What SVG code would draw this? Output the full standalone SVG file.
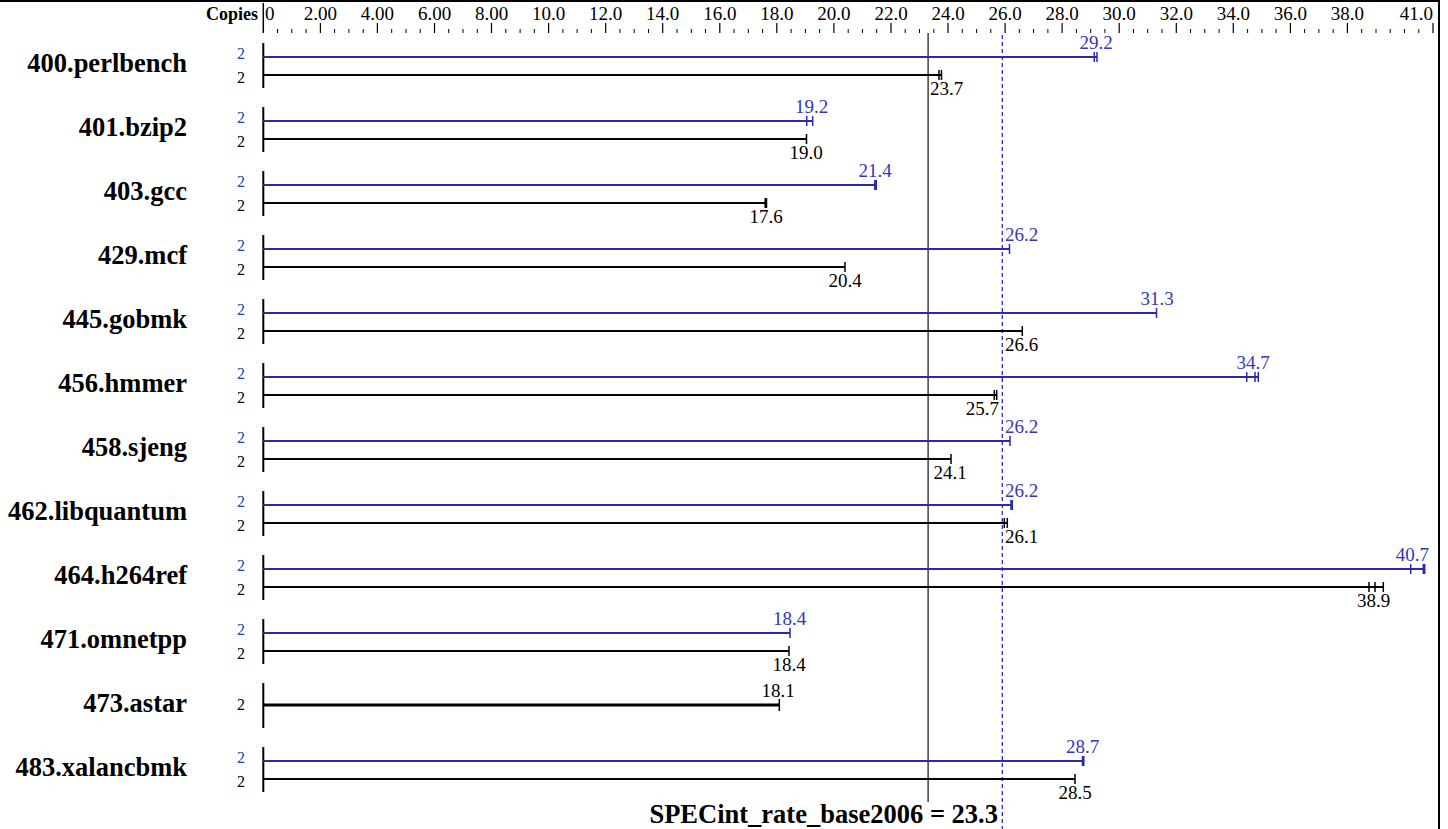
<svg xmlns="http://www.w3.org/2000/svg" width="1448" height="829" viewBox="0 0 1448 829">
<style>
text{font-family:"Liberation Serif","Times New Roman",Times,"Nimbus Roman",Tinos,"DejaVu Serif",serif}
.name{font-weight:bold;font-size:26.5px;text-anchor:end;fill:#000}
.ax{font-size:19px;text-anchor:middle;fill:#000}
.val{font-size:19px;text-anchor:middle}
.vb{fill:#3535b8}
.vk{fill:#000}
.cp{font-size:16px;text-anchor:middle}
.bb{stroke:#2a2aaa;stroke-width:2;fill:none}
.bk{stroke:#000;stroke-width:2;fill:none}
.tb{stroke:#2a2aaa;stroke-width:1.5;fill:none}
.tk{stroke:#000;stroke-width:1.5;fill:none}
.row{stroke:#000;stroke-width:2;fill:none}
.st{text-anchor:start}
.en{text-anchor:end}
</style>
<rect width="1448" height="829" fill="#fff"/>
<g id="frame">
<line x1="0" y1="1" x2="1440" y2="1" stroke="#000" stroke-width="2"/>
<line x1="1439" y1="0" x2="1439" y2="829" stroke="#000" stroke-width="2"/>
</g>
<g id="axis">
<text x="258" y="20" font-weight="bold" font-size="18" text-anchor="end">Copies</text>
<line x1="263.3" y1="3" x2="263.3" y2="33" stroke="#000" stroke-width="1.5"/>
<path d="M320.4,23V33M377.4,23V33M434.5,23V33M491.5,23V33M548.6,23V33M605.7,23V33M662.7,23V33M719.8,23V33M776.8,23V33M833.9,23V33M891,23V33M948,23V33M1005.1,23V33M1062.1,23V33M1119.2,23V33M1176.3,23V33M1233.3,23V33M1290.4,23V33M1347.4,23V33M1433,23V33" stroke="#000" stroke-width="1.2"/>
<path d="M277.6,29V33M291.8,29V33M306.1,29V33M334.6,29V33M348.9,29V33M363.2,29V33M391.7,29V33M406,29V33M420.2,29V33M448.7,29V33M463,29V33M477.3,29V33M505.8,29V33M520.1,29V33M534.3,29V33M562.9,29V33M577.1,29V33M591.4,29V33M619.9,29V33M634.2,29V33M648.5,29V33M677,29V33M691.3,29V33M705.5,29V33M734,29V33M748.3,29V33M762.6,29V33M791.1,29V33M805.4,29V33M819.6,29V33M848.2,29V33M862.4,29V33M876.7,29V33M905.2,29V33M919.5,29V33M933.8,29V33M962.3,29V33M976.6,29V33M990.8,29V33M1019.3,29V33M1033.6,29V33M1047.9,29V33M1076.4,29V33M1090.7,29V33M1104.9,29V33M1133.5,29V33M1147.7,29V33M1162,29V33M1190.5,29V33M1204.8,29V33M1219.1,29V33M1247.6,29V33M1261.9,29V33M1276.1,29V33M1304.6,29V33M1318.9,29V33M1333.2,29V33M1361.7,29V33M1376,29V33M1390.2,29V33M1404.5,29V33M1418.8,29V33" stroke="#000" stroke-width="1"/>
<text class="ax st" x="265" y="20">0</text>
<text class="ax" x="320.4" y="20">2.00</text>
<text class="ax" x="377.4" y="20">4.00</text>
<text class="ax" x="434.5" y="20">6.00</text>
<text class="ax" x="491.5" y="20">8.00</text>
<text class="ax" x="548.6" y="20">10.0</text>
<text class="ax" x="605.7" y="20">12.0</text>
<text class="ax" x="662.7" y="20">14.0</text>
<text class="ax" x="719.8" y="20">16.0</text>
<text class="ax" x="776.8" y="20">18.0</text>
<text class="ax" x="833.9" y="20">20.0</text>
<text class="ax" x="891" y="20">22.0</text>
<text class="ax" x="948" y="20">24.0</text>
<text class="ax" x="1005.1" y="20">26.0</text>
<text class="ax" x="1062.1" y="20">28.0</text>
<text class="ax" x="1119.2" y="20">30.0</text>
<text class="ax" x="1176.3" y="20">32.0</text>
<text class="ax" x="1233.3" y="20">34.0</text>
<text class="ax" x="1290.4" y="20">36.0</text>
<text class="ax" x="1347.4" y="20">38.0</text>
<text class="ax en" x="1433" y="20">41.0</text>
</g>
<g id="reference-lines">
<line x1="928.1" y1="33" x2="928.1" y2="802" stroke="#222" stroke-width="1.3"/>
<line x1="1002.3" y1="35" x2="1002.3" y2="829" stroke="#2a2acc" stroke-width="1.3" stroke-dasharray="4,3"/>
</g>
<g id="bars">
<g id="r400">
<text class="name" x="187" y="72">400.perlbench</text>
<text class="cp vb" x="241" y="58.5">2</text><text class="cp vk" x="241" y="83">2</text>
<line class="row" x1="263.3" y1="43" x2="263.3" y2="88"/>
<line class="bb" x1="263" y1="57" x2="1097" y2="57"/><path class="tb" d="M1094.3,52V62M1097,52V62"/>
<line class="bk" x1="263" y1="75" x2="941.5" y2="75"/><path class="tk" d="M939,70V80M941.5,70V80"/>
<text class="val vb" x="1096" y="49">29.2</text>
<text class="val vk st" x="930" y="95">23.7</text>
</g>
<g id="r401">
<text class="name" x="187" y="136">401.bzip2</text>
<text class="cp vb" x="241" y="122.5">2</text><text class="cp vk" x="241" y="147">2</text>
<line class="row" x1="263.3" y1="107" x2="263.3" y2="152"/>
<line class="bb" x1="263" y1="121" x2="812.7" y2="121"/><path class="tb" d="M806.7,116V126M812.7,116V126"/>
<line class="bk" x1="263" y1="139" x2="806.5" y2="139"/><path class="tk" d="M806.5,134V144"/>
<text class="val vb" x="811.5" y="113">19.2</text>
<text class="val vk" x="806" y="159">19.0</text>
</g>
<g id="r403">
<text class="name" x="187" y="200">403.gcc</text>
<text class="cp vb" x="241" y="186.5">2</text><text class="cp vk" x="241" y="211">2</text>
<line class="row" x1="263.3" y1="171" x2="263.3" y2="216"/>
<line class="bb" x1="263" y1="185" x2="876.3" y2="185"/><path class="tb" d="M874.8,180V190M876.3,180V190"/>
<line class="bk" x1="263" y1="203" x2="766.5" y2="203"/><path class="tk" d="M765.2,198V208M766.5,198V208"/>
<text class="val vb" x="875" y="177">21.4</text>
<text class="val vk" x="766" y="223">17.6</text>
</g>
<g id="r429">
<text class="name" x="187" y="264">429.mcf</text>
<text class="cp vb" x="241" y="250.5">2</text><text class="cp vk" x="241" y="275">2</text>
<line class="row" x1="263.3" y1="235" x2="263.3" y2="280"/>
<line class="bb" x1="263" y1="249" x2="1009.5" y2="249"/><path class="tb" d="M1009.5,244V254"/>
<line class="bk" x1="263" y1="267" x2="845" y2="267"/><path class="tk" d="M845,262V272"/>
<text class="val vb st" x="1005" y="241">26.2</text>
<text class="val vk" x="845" y="287">20.4</text>
</g>
<g id="r445">
<text class="name" x="187" y="328">445.gobmk</text>
<text class="cp vb" x="241" y="314.5">2</text><text class="cp vk" x="241" y="339">2</text>
<line class="row" x1="263.3" y1="299" x2="263.3" y2="344"/>
<line class="bb" x1="263" y1="313" x2="1156.5" y2="313"/><path class="tb" d="M1156.5,308V318"/>
<line class="bk" x1="263" y1="331" x2="1022.3" y2="331"/><path class="tk" d="M1022.3,326V336"/>
<text class="val vb" x="1157" y="305">31.3</text>
<text class="val vk st" x="1005" y="351">26.6</text>
</g>
<g id="r456">
<text class="name" x="187" y="392">456.hmmer</text>
<text class="cp vb" x="241" y="378.5">2</text><text class="cp vk" x="241" y="403">2</text>
<line class="row" x1="263.3" y1="363" x2="263.3" y2="408"/>
<line class="bb" x1="263" y1="377" x2="1258.3" y2="377"/><path class="tb" d="M1246.7,372V382M1255,372V382M1258.3,372V382"/>
<line class="bk" x1="263" y1="395" x2="996.7" y2="395"/><path class="tk" d="M994.3,390V400M996.7,390V400"/>
<text class="val vb" x="1253" y="369">34.7</text>
<text class="val vk en" x="999" y="415">25.7</text>
</g>
<g id="r458">
<text class="name" x="187" y="456">458.sjeng</text>
<text class="cp vb" x="241" y="442.5">2</text><text class="cp vk" x="241" y="467">2</text>
<line class="row" x1="263.3" y1="427" x2="263.3" y2="472"/>
<line class="bb" x1="263" y1="441" x2="1010" y2="441"/><path class="tb" d="M1010,436V446"/>
<line class="bk" x1="263" y1="459" x2="951" y2="459"/><path class="tk" d="M951,454V464"/>
<text class="val vb st" x="1005" y="433">26.2</text>
<text class="val vk" x="950" y="479">24.1</text>
</g>
<g id="r462">
<text class="name" x="187" y="520">462.libquantum</text>
<text class="cp vb" x="241" y="506.5">2</text><text class="cp vk" x="241" y="531">2</text>
<line class="row" x1="263.3" y1="491" x2="263.3" y2="536"/>
<line class="bb" x1="263" y1="505" x2="1012.3" y2="505"/><path class="tb" d="M1011,500V510M1012.3,500V510"/>
<line class="bk" x1="263" y1="523" x2="1007.3" y2="523"/><path class="tk" d="M1004.3,518V528M1007.3,518V528"/>
<text class="val vb st" x="1005" y="497">26.2</text>
<text class="val vk st" x="1005" y="543">26.1</text>
</g>
<g id="r464">
<text class="name" x="187" y="584">464.h264ref</text>
<text class="cp vb" x="241" y="570.5">2</text><text class="cp vk" x="241" y="595">2</text>
<line class="row" x1="263.3" y1="555" x2="263.3" y2="600"/>
<line class="bb" x1="263" y1="569" x2="1424.7" y2="569"/><path class="tb" d="M1410.7,564V574M1423.3,564V574M1424.7,564V574"/>
<line class="bk" x1="263" y1="587" x2="1383.3" y2="587"/><path class="tk" d="M1369,582V592M1375,582V592M1383.3,582V592"/>
<text class="val vb en" x="1429" y="561">40.7</text>
<text class="val vk" x="1373.5" y="607">38.9</text>
</g>
<g id="r471">
<text class="name" x="187" y="648">471.omnetpp</text>
<text class="cp vb" x="241" y="634.5">2</text><text class="cp vk" x="241" y="659">2</text>
<line class="row" x1="263.3" y1="619" x2="263.3" y2="664"/>
<line class="bb" x1="263" y1="633" x2="790" y2="633"/><path class="tb" d="M790,628V638"/>
<line class="bk" x1="263" y1="651" x2="789" y2="651"/><path class="tk" d="M789,646V656"/>
<text class="val vb" x="789.5" y="625">18.4</text>
<text class="val vk" x="789" y="671">18.4</text>
</g>
<g id="r473">
<text class="name" x="187" y="712">473.astar</text>
<text class="cp vk" x="241" y="710">2</text>
<line class="row" x1="263.3" y1="683" x2="263.3" y2="728"/>
<line x1="263" y1="705" x2="779.3" y2="705" stroke="#000" stroke-width="3"/><path class="tk" d="M779.3,699V711"/>
<text class="val vk" x="778" y="697">18.1</text>
</g>
<g id="r483">
<text class="name" x="187" y="776">483.xalancbmk</text>
<text class="cp vb" x="241" y="762.5">2</text><text class="cp vk" x="241" y="787">2</text>
<line class="row" x1="263.3" y1="747" x2="263.3" y2="792"/>
<line class="bb" x1="263" y1="761" x2="1083.8" y2="761"/><path class="tb" d="M1082.5,756V766M1083.8,756V766"/>
<line class="bk" x1="263" y1="779" x2="1075" y2="779"/><path class="tk" d="M1075,774V784"/>
<text class="val vb" x="1082.7" y="753">28.7</text>
<text class="val vk" x="1075" y="799">28.5</text>
</g>
</g>
<g id="footer">
<text x="998" y="823" font-weight="bold" font-size="26.5" text-anchor="end">SPECint_rate_base2006 = 23.3</text>
</g>
</svg>
